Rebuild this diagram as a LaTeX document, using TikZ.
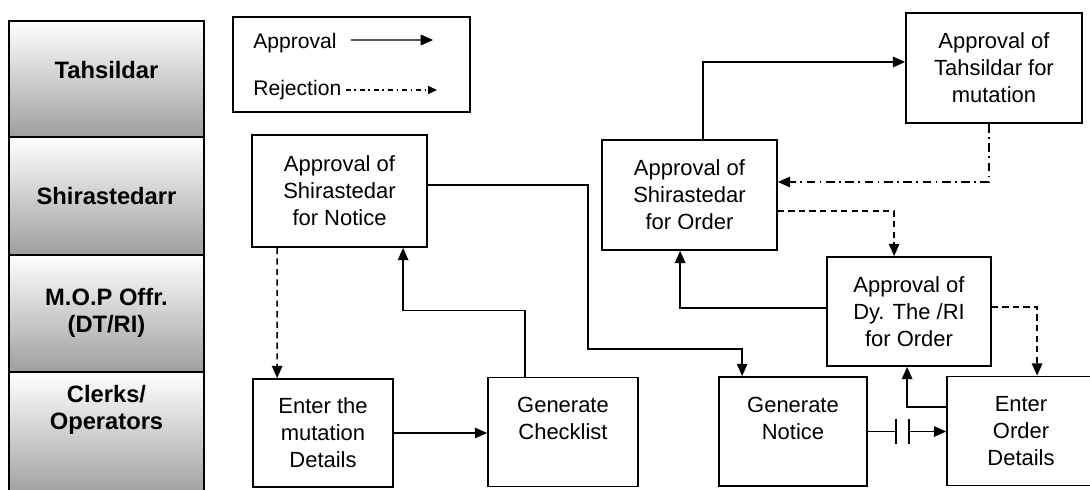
\documentclass[tikz,border=0pt]{standalone}
\usepackage{fontspec}
\setmainfont{Liberation Sans}
\usetikzlibrary{shapes,arrows,positioning,calc,arrows.meta}

\begin{document}
\begin{tikzpicture}[x=0.02cm, y=-0.02cm,
    box/.style={draw, rectangle, line width=1pt, align=center, inner sep=0pt, font=\fontsize{12.5}{15.3}\selectfont},
    lane/.style={draw, rectangle, line width=0.9pt, minimum width=3.9cm, top color=white, middle color=black!10, bottom color=black!38},
    lanetxt/.style={align=center, inner sep=0pt, font=\bfseries\fontsize{13.5}{15.5}\selectfont},
    lgdtxt/.style={anchor=west, inner sep=0pt, font=\fontsize{12}{14}\selectfont},
    appr/.style={-{Triangle[length=7pt,width=6pt]}, line width=0.8pt},
    rej/.style={appr, dash pattern=on 5pt off 2.5pt on 1pt off 2.5pt},
    dsh/.style={appr, dash pattern=on 3.5pt off 2.5pt}]
    \useasboundingbox (0,0) rectangle (1090,490);

    \node [lane, minimum height=2.32cm] (lnT) at (106.5,79) {};
    \node [lane, minimum height=2.36cm] (lnS) at (106.5,196) {};
    \node [lane, minimum height=2.34cm] (lnM) at (106.5,313.5) {};
    \node [lane, minimum height=2.5cm] (lnC) at (106.5,434.5) {};
    \node [lanetxt] (tT) at (106.5,70) {Tahsildar};
    \node [lanetxt] (tS) at (106.5,196) {Shirastedarr};
    \node [lanetxt] (tM) at (106.5,313) {M.O.P Offr.\\(DT/RI)};
    \node [lanetxt] (tC) at (106.5,410) {Clerks/\\Operators};

    \node [draw, line width=1pt, minimum width=4.74cm, minimum height=1.9cm] (lgd) at (351.5,64.5) {};
    \node [lgdtxt] (lgA) at (253,43) {Approval};
    \node [lgdtxt] (lgR) at (253,90) {Rejection};
    \draw [appr] ([xshift=0.28cm, yshift=0.06cm]lgA.east) -- (433,40);
    \draw [rej, -{Triangle[length=5pt,width=4.5pt]}, dash pattern=on 3pt off 2pt on 1pt off 2pt] ([xshift=0.08cm]lgR.east) -- (437,90);

    \node [box, minimum width=3.5cm, minimum height=2.24cm] (ntcA) at (339.5,191) {Approval of\\Shirastedar\\for Notice};
    \node [box, minimum width=2.8cm, minimum height=2.16cm] (mutIn) at (323,433) {Enter the\\mutation\\Details};
    \node [box, minimum width=3cm, minimum height=2.18cm] (chk) at (563,432) {Generate\\Checklist\\\mbox{}};
    \node [box, minimum width=3.5cm, minimum height=2.2cm] (ordA) at (689.5,195) {Approval of\\Shirastedar\\for Order};
    \node [box, minimum width=3.52cm, minimum height=2.2cm] (tahA) at (994,68) {Approval of\\Tahsildar for\\mutation};
    \node [box, minimum width=3.28cm, minimum height=2.18cm] (dyA) at (909,311.5) {Approval of\\Dy. The /RI\\for Order};
    \node [box, minimum width=2.96cm, minimum height=2.18cm] (genN) at (793,431.5) {Generate\\Notice\\\mbox{}};
    \node [box, minimum width=2.96cm, minimum height=2.18cm] (ordIn) at (1021,431) {Enter\\Order\\Details};

    \draw [dsh] ([xshift=0.52cm]ntcA.south west) -- ([xshift=0.5cm]mutIn.north west);
    \draw [appr] (mutIn.east) -- (chk.west |- mutIn.east);
    \draw [appr] ([xshift=0.76cm]chk.north west) -- ++(0,-66) -| ([xshift=3.04cm]ntcA.south west);
    \draw [appr] ([yshift=0.12cm]ntcA.east) -- ++(160,0) -- ++(0,164) -| ([xshift=0.48cm]genN.north west);

    \draw [appr] ([xshift=2.04cm]ordA.north west) |- ([yshift=0.12cm]tahA.west);
    \draw [rej] ([xshift=1.68cm]tahA.south west) |- ([yshift=0.26cm]ordA.east);
    \draw [dsh] ([yshift=-0.32cm]ordA.east) -| ([xshift=1.36cm]dyA.north west);
    \draw [appr] ([yshift=0.07cm]dyA.west) -| ([xshift=1.58cm]ordA.south west);
    \draw [dsh] ([yshift=0.09cm]dyA.east) -| ([xshift=1.82cm]ordIn.north west);

    \draw [line width=0.8pt] (genN.east) -- ++(28,0) coordinate (capL); % break in the line
    \draw [line width=0.8pt] ([yshift=0.26cm]capL) -- ([yshift=-0.26cm]capL);
    \coordinate (capR) at ([xshift=0.26cm]capL);
    \draw [line width=0.8pt] ([yshift=0.26cm]capR) -- ([yshift=-0.26cm]capR);
    \draw [appr] (capR) -- (ordIn.west |- capR);
    \draw [appr] ([yshift=0.48cm]ordIn.west) -| ([xshift=1.62cm]dyA.south west);
\end{tikzpicture}
\end{document}
